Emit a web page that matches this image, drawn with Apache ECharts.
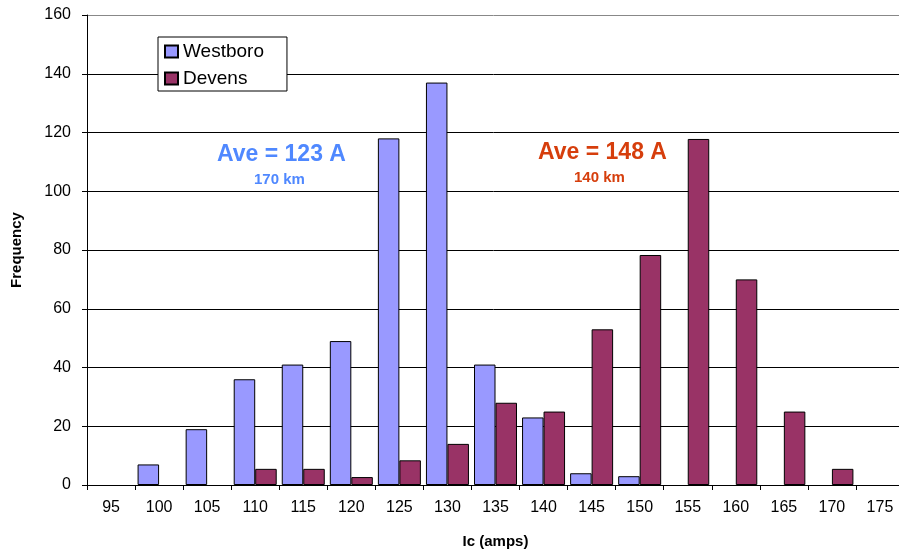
<!DOCTYPE html>
<html>
<head>
<meta charset="utf-8">
<script src="https://cdn.jsdelivr.net/npm/echarts@6/dist/echarts.min.js"></script>
<style>
html,body{margin:0;padding:0;background:#fff;}
#chart{width:899px;height:550px;}
</style>
</head>
<body>
<div id="chart"></div>
<script>
var categories = ['95','100','105','110','115','120','125','130','135','140','145','150','155','160','165','170','175'];
var westboro = [0, 7, 19, 36, 41, 49, 118, 137, 41, 23, 4, 3, 0, 0, 0, 0, 0];
var devens   = [0, 0, 0, 5.5, 5.5, 2.7, 8.4, 14, 28, 25, 53, 78.3, 117.8, 70, 25, 5.5, 0];
var yTicks = [0, 20, 40, 60, 80, 100, 120, 140, 160];

var FONT = '"Liberation Sans", Arial, sans-serif';
function hideZero(arr) { return arr.map(function (v) { return v === 0 ? '-' : v; }); }
var chart = echarts.init(document.getElementById('chart'), null, {renderer: 'canvas'});
var splitColors = yTicks.map(function (t, i) { return i === yTicks.length - 1 ? '#888888' : '#000000'; });

chart.setOption({
  animation: false,
  backgroundColor: '#ffffff',
  grid: {left: 87, top: 15, width: 817, height: 470, containLabel: false, outerBoundsMode: 'none'},
  legend: {
    orient: 'vertical',
    left: 158, top: 37,
    backgroundColor: '#ffffff',
    borderColor: '#000000', borderWidth: 1,
    padding: [5, 23, 3, 6],
    itemGap: 8,
    itemWidth: 13, itemHeight: 12,
    icon: 'rect',
    textStyle: {fontFamily: FONT, fontSize: 19, color: '#000'},
    data: ['Westboro', 'Devens']
  },
  xAxis: {
    type: 'category',
    data: categories,
    name: 'Ic (amps)',
    nameLocation: 'middle',
    nameGap: 49,
    nameTextStyle: {fontFamily: FONT, fontSize: 15, fontWeight: 'bold', color: '#000'},
    axisLine: {lineStyle: {color: '#000', width: 1}},
    axisTick: {show: true, length: 5, lineStyle: {color: '#000'}},
    axisLabel: {fontFamily: FONT, fontSize: 16, color: '#000', margin: 15, interval: 0},
    splitLine: {show: false}
  },
  yAxis: {
    type: 'value',
    min: 0, max: 160, interval: 20,
    name: 'Frequency',
    nameLocation: 'middle',
    nameGap: 63,
    nameRotate: 90,
    nameTextStyle: {fontFamily: FONT, fontSize: 15, fontWeight: 'bold', color: '#000'},
    axisLine: {show: true, lineStyle: {color: '#000', width: 1}},
    axisTick: {show: true, length: 5, lineStyle: {color: '#000'}},
    axisLabel: {fontFamily: FONT, fontSize: 16, color: '#000', margin: 16},
    splitLine: {show: true, lineStyle: {color: splitColors, width: 1}}
  },
  series: [
    {
      name: 'Westboro', type: 'bar', data: hideZero(westboro),
      barWidth: 21.5, barGap: '0%',
      itemStyle: {color: '#9999FF', borderColor: '#000', borderWidth: 1}
    },
    {
      name: 'Devens', type: 'bar', data: hideZero(devens),
      barWidth: 21.5, barGap: '0%',
      itemStyle: {color: '#993366', borderColor: '#000', borderWidth: 1}
    }
  ],
  graphic: [
    {type: 'text', left: 217, top: 143, style: {text: 'Ave = 123 A', fontFamily: FONT, fontSize: 23, fontWeight: 'bold', fill: '#4F88FF'}},
    {type: 'text', left: 254, top: 172, style: {text: '170 km', fontFamily: FONT, fontSize: 15, fontWeight: 'bold', fill: '#4F88FF'}},
    {type: 'text', left: 538, top: 141, style: {text: 'Ave = 148 A', fontFamily: FONT, fontSize: 23, fontWeight: 'bold', fill: '#D63E0C'}},
    {type: 'text', left: 574, top: 170, style: {text: '140 km', fontFamily: FONT, fontSize: 15, fontWeight: 'bold', fill: '#D63E0C'}}
  ]
});
</script>
</body>
</html>
